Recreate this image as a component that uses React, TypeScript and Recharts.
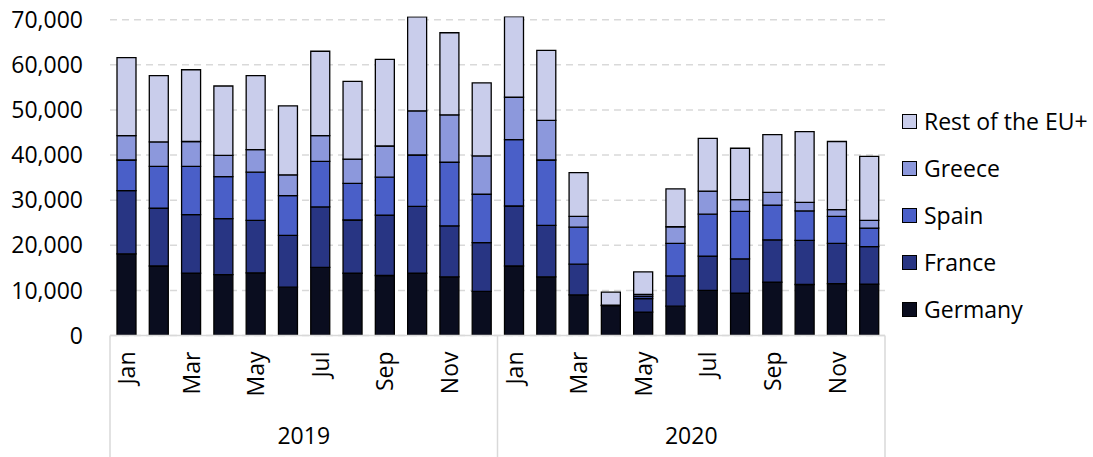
import { BarChart, Bar, XAxis, YAxis, CartesianGrid } from "recharts"

const months = ["Jan", "Feb", "Mar", "Apr", "May", "Jun", "Jul", "Aug", "Sep", "Oct", "Nov", "Dec"]
const years = ["2019", "2020"]

const germany = [18100, 15400, 13800, 13500, 13900, 10700, 15100, 13800, 13300, 13800, 13000, 9800, 15400, 13000, 9000, 6600, 5200, 6500, 10000, 9400, 11800, 11300, 11500, 11400]
const france = [14000, 12800, 13000, 12400, 11600, 11500, 13400, 11800, 13400, 14800, 11300, 10800, 13300, 11400, 6800, 100, 3000, 6700, 7600, 7600, 9400, 9800, 8900, 8300]
const spain = [6800, 9300, 10700, 9300, 10700, 8800, 10100, 8100, 8400, 11400, 14100, 10700, 14700, 14500, 8200, 0, 500, 7200, 9300, 10500, 7700, 6500, 6000, 4100]
const greece = [5400, 5400, 5500, 4700, 5000, 4600, 5700, 5400, 6900, 9800, 10500, 8500, 9400, 8800, 2400, 0, 400, 3700, 5100, 2600, 2800, 1900, 1500, 1700]
const rest = [17300, 14700, 15900, 15400, 16400, 15300, 18700, 17200, 19200, 20800, 18200, 16200, 17900, 15500, 9700, 2900, 5000, 8400, 11700, 11400, 12800, 15700, 15100, 14200]

const yTicks = [0, 10000, 20000, 30000, 40000, 50000, 60000, 70000]

const series = [
  { key: "germany", name: "Germany", values: germany, color: "#0a0d1f" },
  { key: "france", name: "France", values: france, color: "#283583" },
  { key: "spain", name: "Spain", values: spain, color: "#4a5fc8" },
  { key: "greece", name: "Greece", values: greece, color: "#8c98dc" },
  { key: "rest", name: "Rest of the EU+", values: rest, color: "#c9cdeb" },
]

const data = years.flatMap((year, yi) =>
  months.map((month, mi) => {
    const i = yi * months.length + mi
    const row: Record<string, string | number> = { month, year, idx: i }
    series.forEach((s) => (row[s.key] = s.values[i]))
    return row
  })
)

const W = 1093
const H = 457
const PLOT_LEFT = 110
const PLOT_RIGHT = 885
const SLOT = (PLOT_RIGHT - PLOT_LEFT) / data.length
const FONT = "'Open Sans', sans-serif"
const GRID = "#d9d9d9"
// a little headroom above 70,000: two bars go slightly over it
const Y_MAX = 70700

// grid only at the tick values, not at the top edge of the plot
const gridRows = ({ offset }: any) =>
  yTicks.map((t) => offset.top + offset.height * (1 - t / Y_MAX))

function MonthTick(props: any) {
  const { x, y, payload } = props
  const i = payload.index
  const lines = []
  if (i % 12 === 0) lines.push(x - SLOT / 2)
  if (i === data.length - 1) lines.push(x + SLOT / 2)
  return (
    <g>
      {lines.map((lx) => (
        <line key={lx} x1={lx} x2={lx} y1={y} y2={H} stroke={GRID} strokeWidth={1.5} />
      ))}
      {i % 2 === 0 && (
        <text
          x={x}
          y={y + 16}
          transform={`rotate(-90, ${x}, ${y + 16})`}
          textAnchor="end"
          dominantBaseline="central"
          fontSize={23}
          fontFamily={FONT}
          fill="#000"
        >
          {payload.value}
        </text>
      )}
    </g>
  )
}

export default function App() {
  return (
    <div style={{ position: "absolute", left: 0, top: 0, width: W, height: H, background: "#fff" }}>
      <BarChart
        width={W}
        height={H}
        data={data}
        margin={{ top: 16.5, right: W - PLOT_RIGHT, bottom: 0, left: 0 }}
        barSize={19}
      >
        <CartesianGrid
          vertical={false}
          stroke={GRID}
          strokeDasharray="7 5"
          strokeWidth={1.5}
          horizontalCoordinatesGenerator={gridRows}
        />
        <XAxis
          dataKey="idx"
          interval={0}
          height={60}
          tickSize={0}
          tickMargin={0}
          axisLine={{ stroke: GRID, strokeWidth: 1.5 }}
          tickLine={false}
          tick={(p: any) => (
            <MonthTick {...p} payload={{ ...p.payload, value: months[p.payload.value % 12], index: p.payload.value }} />
          )}
        />
        <XAxis
          xAxisId="year"
          dataKey="year"
          allowDuplicatedCategory={false}
          height={61.5}
          tickSize={0}
          tickMargin={32}
          axisLine={false}
          tickLine={false}
          tick={{ fontSize: 23, fontFamily: FONT, fill: "#000" }}
        />
        <YAxis
          width={PLOT_LEFT}
          domain={[0, Y_MAX]}
          allowDataOverflow
          ticks={yTicks}
          tickFormatter={(v) => v.toLocaleString("en-US")}
          axisLine={false}
          tickLine={false}
          tickSize={0}
          tickMargin={27}
          tick={{ fontSize: 23, fontFamily: FONT, fill: "#000" }}
        />
        {series.map((s) => (
          <Bar
            key={s.key}
            dataKey={s.key}
            name={s.name}
            stackId="a"
            fill={s.color}
            stroke="#000"
            strokeWidth={1.3}
            isAnimationActive={false}
          />
        ))}
      </BarChart>
      {[...series].reverse().map((s, i) => (
        <div
          key={s.key}
          style={{
            position: "absolute",
            left: 902,
            top: 121 + i * 47 - 16,
            height: 32,
            display: "flex",
            alignItems: "center",
            fontFamily: FONT,
            fontSize: 23,
            color: "#000",
            whiteSpace: "nowrap",
          }}
        >
          <span
            style={{
              width: 13,
              height: 13,
              background: s.color,
              border: "1px solid #000",
              marginRight: 7,
              display: "inline-block",
            }}
          />
          {s.name}
        </div>
      ))}
    </div>
  )
}
